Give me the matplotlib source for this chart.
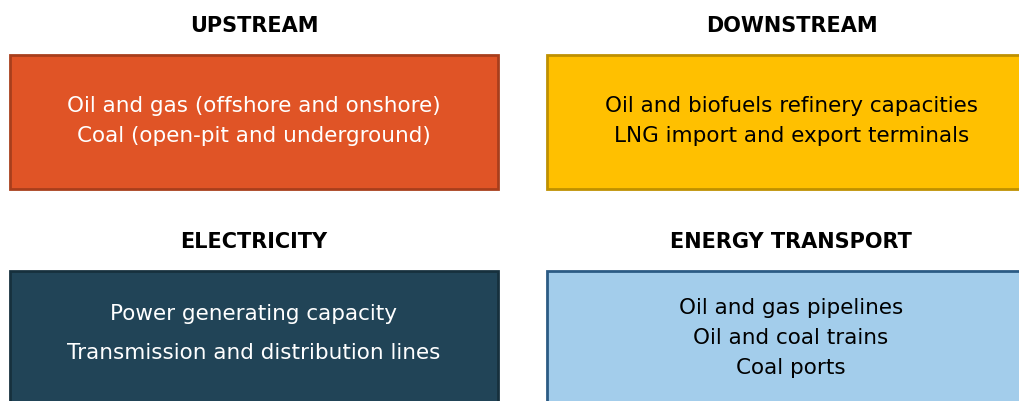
import matplotlib
matplotlib.use("Agg")
import matplotlib.pyplot as plt
from matplotlib.patches import Rectangle

headings = ["UPSTREAM", "DOWNSTREAM", "ELECTRICITY", "ENERGY TRANSPORT"]
box_lines = [
    ["Oil and gas (offshore and onshore)", "Coal (open-pit and underground)"],
    ["Oil and biofuels refinery capacities", "LNG import and export terminals"],
    ["Power generating capacity", "Transmission and distribution lines"],
    ["Oil and gas pipelines", "Oil and coal trains", "Coal ports"],
]
fill_colors = ["#E05426", "#FFC000", "#214457", "#A3CDEB"]
edge_colors = ["#A83E1C", "#BF9000", "#16303D", "#2B5B84"]
text_colors = ["white", "black", "white", "black"]

# layout (pixel coordinates)
box_x = [10, 547, 10, 547]
box_w = [488, 490, 488, 490]
box_y = [55, 55, 271, 271]
box_h = [134, 134, 140, 140]
head_y = [26, 26, 242, 242]
head_x = [254, 792, 254, 791]
line_y = [[106, 136], [106, 136], [314, 353], [308, 338, 368]]

fig = plt.figure(figsize=(10.2, 4.01), dpi=100)
ax = fig.add_axes([0, 0, 1, 1])
ax.set_xlim(0, 1020)
ax.set_ylim(401, 0)
ax.axis("off")

for i in range(4):
    ax.add_patch(Rectangle((box_x[i], box_y[i]), box_w[i], box_h[i],
                           facecolor=fill_colors[i], edgecolor=edge_colors[i],
                           linewidth=2))
    ax.text(head_x[i], head_y[i], headings[i], ha="center", va="center",
            fontsize=15, fontweight="bold", family="DejaVu Sans", color="black")
    for ln, yy in zip(box_lines[i], line_y[i]):
        ax.text(head_x[i], yy, ln, ha="center", va="center", fontsize=15.5,
                family="DejaVu Sans", color=text_colors[i])

fig.savefig("out.png", dpi=100)
